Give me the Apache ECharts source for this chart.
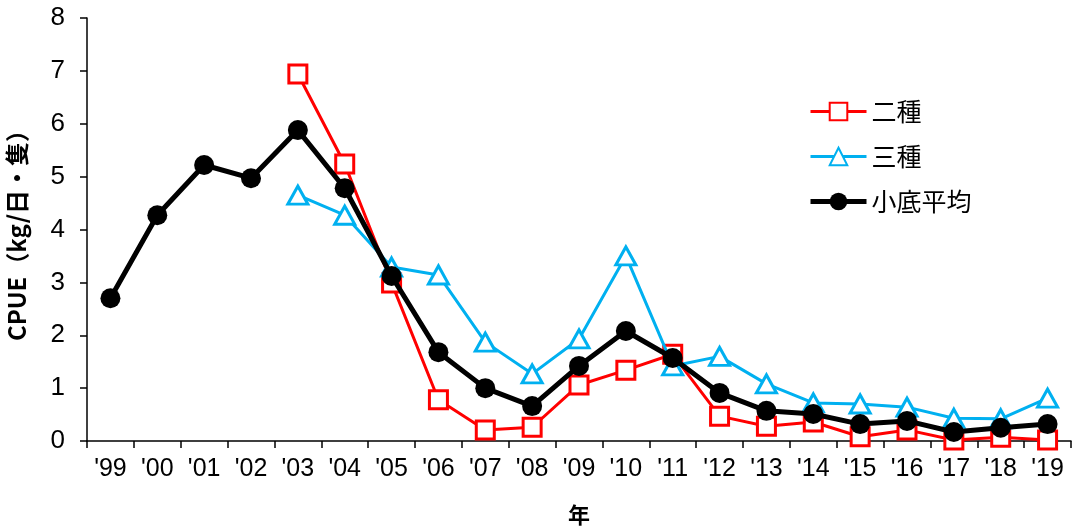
<!DOCTYPE html>
<html>
<head>
<meta charset="utf-8">
<script src="https://cdn.jsdelivr.net/npm/echarts@6/dist/echarts.min.js"></script>
<style>
  html, body { margin: 0; padding: 0; background: #fff; }
  #chart { width: 1075px; height: 532px; }
</style>
</head>
<body>
<div id="chart"></div>
<script>
// Year labels along the bottom axis
const years = ["'99","'00","'01","'02","'03","'04","'05","'06","'07","'08","'09","'10","'11","'12","'13","'14","'15","'16","'17","'18","'19"];

// CPUE (kg per vessel-day)
const nishu = [null, null, null, null, 6.94, 5.24, 2.99, 0.78, 0.21, 0.26, 1.06, 1.34, 1.64, 0.47, 0.28, 0.36, 0.08, 0.21, 0.02, 0.07, 0.02];
const sanshu = [null, null, null, null, 4.65, 4.27, 3.29, 3.14, 1.87, 1.27, 1.93, 3.50, 1.42, 1.60, 1.08, 0.72, 0.70, 0.64, 0.43, 0.42, 0.81];
const kosokoAvg = [2.70, 4.27, 5.22, 4.97, 5.88, 4.78, 3.12, 1.68, 1.00, 0.66, 1.42, 2.08, 1.57, 0.91, 0.57, 0.51, 0.32, 0.38, 0.17, 0.25, 0.32];

const yTicks = { min: 0, max: 8, interval: 1 };

const chart = echarts.init(document.getElementById('chart'));
const baseFont = 'Liberation Sans, Arial, sans-serif';
const cjkFont = 'Noto Sans CJK JP, Liberation Sans, sans-serif';

chart.setOption({
  animation: false,
  backgroundColor: '#ffffff',
  grid: { left: 87, right: 4, top: 18, bottom: 91, containLabel: false, outerBoundsMode: 'none' },
  legend: {
    orient: 'vertical',
    left: 803,
    top: 94,
    itemWidth: 56,
    itemHeight: 22,
    itemGap: 20,
    textStyle: { fontFamily: cjkFont, fontSize: 25, color: '#000' },
    data: [
      { name: '二種', lineStyle: { width: 3 } },
      { name: '三種', lineStyle: { width: 3 } },
      { name: '小底平均', lineStyle: { width: 5 } }
    ]
  },
  xAxis: {
    type: 'category',
    data: years,
    boundaryGap: true,
    name: '年',
    nameLocation: 'middle',
    nameGap: 63,
    nameTextStyle: { fontFamily: cjkFont, fontSize: 22, fontWeight: 'bold', color: '#000' },
    axisLine: { lineStyle: { color: '#000', width: 1.5 } },
    axisTick: { show: true, alignWithLabel: false, length: 7, lineStyle: { color: '#000', width: 1.5 } },
    axisLabel: {
      color: '#000',
      fontFamily: baseFont,
      fontSize: 25,
      margin: 16
    },
    splitLine: { show: false }
  },
  yAxis: {
    type: 'value',
    min: yTicks.min,
    max: yTicks.max,
    interval: yTicks.interval,
    name: 'CPUE（kg/日・隻）',
    nameLocation: 'middle',
    nameGap: 58,
    nameRotate: 90,
    nameTextStyle: { fontFamily: cjkFont, fontSize: 24, fontWeight: 'bold', color: '#000' },
    axisLine: { show: true, lineStyle: { color: '#000', width: 1.5 } },
    axisTick: { show: true, length: 7, lineStyle: { color: '#000', width: 1.5 } },
    axisLabel: { color: '#000', fontFamily: baseFont, fontSize: 26, margin: 22 },
    splitLine: { show: false }
  },
  series: [
    {
      name: '二種',
      type: 'line',
      data: nishu,
      symbol: 'rect',
      symbolSize: 18,
      color: '#ff0000',
      lineStyle: { color: '#ff0000', width: 3 },
      itemStyle: { color: '#ffffff', borderColor: '#ff0000', borderWidth: 3 },
      z: 2
    },
    {
      name: '三種',
      type: 'line',
      data: sanshu,
      symbol: 'triangle',
      symbolSize: [20, 18],
      color: '#00b0f0',
      lineStyle: { color: '#00b0f0', width: 3 },
      itemStyle: { color: '#ffffff', borderColor: '#00b0f0', borderWidth: 3 },
      z: 3
    },
    {
      name: '小底平均',
      type: 'line',
      data: kosokoAvg,
      symbol: 'circle',
      symbolSize: 20,
      color: '#000000',
      lineStyle: { color: '#000000', width: 5 },
      itemStyle: { color: '#000000', borderColor: '#000000', borderWidth: 0 },
      z: 4
    }
  ]
});
</script>
</body>
</html>
